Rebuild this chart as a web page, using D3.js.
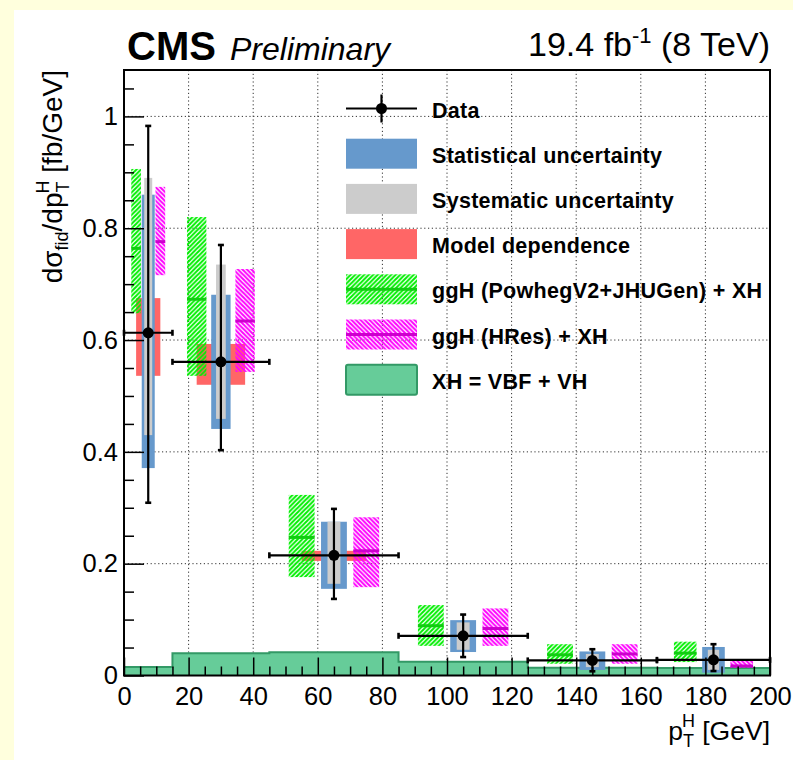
<!DOCTYPE html>
<html>
<head>
<meta charset="utf-8">
<title>pT H fiducial</title>
<script src="https://cdn.jsdelivr.net/npm/d3@7"></script>
<style>
  body { margin: 0; padding: 0; background: #ffffdd; }
  svg { display: block; font-family: "Liberation Sans", Arial, Helvetica, sans-serif; }
</style>
</head>
<body>
<div id="chart"></div>
<script>
// bins in pT [GeV]
const binLo = [0, 15, 45, 85, 125, 165]
const binHi = [15, 45, 85, 125, 165, 200]
const dataX = [7.5, 30, 65, 105, 145, 182.5]
// measured values and errors
const dataY  = [0.613, 0.561, 0.215, 0.071, 0.027, 0.028]
const dataUp = [0.983, 0.770, 0.298, 0.109, 0.047, 0.056]
const dataDn = [0.309, 0.403, 0.137, 0.033, 0.0075, 0.008]
const statUp = [0.860, 0.681, 0.275, 0.099, 0.043, 0.051]
const statDn = [0.371, 0.441, 0.155, 0.042, 0.010, 0.005]
const systUp = [0.890, 0.735, 0.275, 0.095, 0.0385, 0.046]
const systDn = [0.430, 0.459, 0.164, 0.046, 0.015, 0.010]
const modelUp = [0.675, 0.593, 0.223, 0.071, 0.027, 0.028]
const modelDn = [0.536, 0.520, 0.205, 0.071, 0.027, 0.028]
// predictions
const powC  = [0.764, 0.673, 0.247, 0.089, 0.037, 0.040]
const powUp = [0.906, 0.820, 0.323, 0.126, 0.056, 0.0605]
const powDn = [0.648, 0.536, 0.176, 0.053, 0.021, 0.024]
const hresC  = [0.776, 0.634, 0.223, 0.084, 0.0385, 0.017]
const hresUp = [0.874, 0.727, 0.283, 0.120, 0.056, 0.028]
const hresDn = [0.716, 0.543, 0.158, 0.053, 0.021, 0.014]
const xhVal = [0.0152, 0.0397, 0.0415, 0.0247, 0.014, 0.0135]
// axis ticks
const xMajor = [0, 20, 40, 60, 80, 100, 120, 140, 160, 180, 200]
const yMajor = [0, 0.2, 0.4, 0.6, 0.8, 1]
const legendLabels = ["Data", "Statistical uncertainty", "Systematic uncertainty", "Model dependence",
  "ggH (PowhegV2+JHUGen) + XH", "ggH (HRes) + XH", "XH = VBF + VH"]

const W = 793, H = 760
const L = 124, R = 770, T = 70, B = 675.5

const svg = d3.select("#chart").append("svg").attr("width", W).attr("height", H)
svg.append("rect").attr("x", 0).attr("y", 0).attr("width", W).attr("height", H).attr("fill", "#ffffdd")
svg.append("rect").attr("x", 14).attr("y", 10).attr("width", W - 14).attr("height", H - 10).attr("fill", "#fff")

const x = d3.scaleLinear().domain([0, 200]).range([L, R])
const y = d3.scaleLinear().domain([0, 1.083]).range([B, T])

// hatch patterns
const defs = svg.append("defs")
function hatch(id, color, dir) {
  const p = defs.append("pattern").attr("id", id).attr("patternUnits", "userSpaceOnUse")
    .attr("width", 4.5).attr("height", 4.5)
  const d = dir > 0 ? "M-1,1 l2,-2 M0,4.5 l4.5,-4.5 M3.5,5.5 l2,-2" : "M-1,3.5 l2,2 M0,0 l4.5,4.5 M3.5,-1 l2,2"
  p.append("path").attr("d", d).attr("stroke", color).attr("stroke-width", 2)
}
hatch("hG", "#00ee00", 1)
hatch("hM", "#ff00ff", -1)

// grid
const grid = svg.append("g").attr("stroke", "#333").attr("stroke-width", 1).attr("stroke-dasharray", "1.2,2.6")
grid.selectAll("line.gx").data(xMajor.slice(1, -1)).join("line")
  .attr("x1", d => x(d)).attr("x2", d => x(d)).attr("y1", T).attr("y2", B)
grid.selectAll("line.gy").data(yMajor.slice(1)).join("line").attr("class", "gy")
  .attr("x1", L).attr("x2", R).attr("y1", d => y(d)).attr("y2", d => y(d))

const idx = d3.range(binLo.length)
const bw = i => x(binHi[i]) - x(binLo[i])

// XH histogram
const histPts = []
idx.forEach(i => { histPts.push([binLo[i], xhVal[i]]); histPts.push([binHi[i], xhVal[i]]) })
svg.append("path")
  .attr("d", d3.area().x(d => x(d[0])).y0(y(0)).y1(d => y(d[1]))(histPts))
  .attr("fill", "#66cc99")
svg.append("path")
  .attr("d", d3.line().x(d => x(d[0])).y(d => y(d[1]))([[0, 0], ...histPts, [200, 0]]))
  .attr("fill", "none").attr("stroke", "#339966").attr("stroke-width", 2)

// model dependence
svg.selectAll("rect.model").data(idx).join("rect")
  .attr("x", i => x(dataX[i]) - bw(i) * 0.25).attr("width", i => bw(i) * 0.5)
  .attr("y", i => y(modelUp[i])).attr("height", i => y(modelDn[i]) - y(modelUp[i]))
  .attr("fill", "#ff6666")

// predictions
function pred(up, dn, c, off, pat, lc) {
  const g = svg.append("g")
  g.selectAll("rect").data(idx).join("rect")
    .attr("x", i => x(dataX[i]) + off * bw(i) - bw(i) * 0.1).attr("width", i => bw(i) * 0.2)
    .attr("y", i => y(up[i])).attr("height", i => y(dn[i]) - y(up[i]))
    .attr("fill", `url(#${pat})`)
  g.selectAll("line").data(idx).join("line")
    .attr("x1", i => x(dataX[i]) + off * bw(i) - bw(i) * 0.1)
    .attr("x2", i => x(dataX[i]) + off * bw(i) + bw(i) * 0.1)
    .attr("y1", i => y(c[i])).attr("y2", i => y(c[i]))
    .attr("stroke", lc).attr("stroke-width", 3)
}
pred(powUp, powDn, powC, -0.25, "hG", "#11cc11")
pred(hresUp, hresDn, hresC, 0.25, "hM", "#cc00cc")

// stat and syst boxes
const blueW = i => Math.max(bw(i) * 0.2, 13)
const grayW = i => Math.max(bw(i) * 0.1, 8)
svg.selectAll("rect.stat").data(idx).join("rect")
  .attr("x", i => x(dataX[i]) - blueW(i) / 2).attr("width", blueW)
  .attr("y", i => y(statUp[i])).attr("height", i => y(statDn[i]) - y(statUp[i]))
  .attr("fill", "#6699cc")
svg.selectAll("rect.syst").data(idx).join("rect")
  .attr("x", i => x(dataX[i]) - grayW(i) / 2).attr("width", grayW)
  .attr("y", i => y(systUp[i])).attr("height", i => y(systDn[i]) - y(systUp[i]))
  .attr("fill", "#cccccc")

// data points
const dg = svg.append("g").attr("stroke", "#000").attr("stroke-width", 2.2)
dg.selectAll("line.h").data(idx).join("line")
  .attr("x1", i => x(binLo[i])).attr("x2", i => x(binHi[i]))
  .attr("y1", i => y(dataY[i])).attr("y2", i => y(dataY[i]))
dg.selectAll("line.v").data(idx).join("line")
  .attr("x1", i => x(dataX[i])).attr("x2", i => x(dataX[i]))
  .attr("y1", i => y(dataUp[i])).attr("y2", i => y(dataDn[i]))
const caps = []
idx.forEach(i => {
  caps.push({ x1: x(dataX[i]) - 3, x2: x(dataX[i]) + 3, y1: y(dataUp[i]), y2: y(dataUp[i]) })
  caps.push({ x1: x(dataX[i]) - 3, x2: x(dataX[i]) + 3, y1: y(dataDn[i]), y2: y(dataDn[i]) })
  caps.push({ x1: x(binLo[i]), x2: x(binLo[i]), y1: y(dataY[i]) - 3, y2: y(dataY[i]) + 3 })
  caps.push({ x1: x(binHi[i]), x2: x(binHi[i]), y1: y(dataY[i]) - 3, y2: y(dataY[i]) + 3 })
})
dg.selectAll("line.c").data(caps).join("line")
  .attr("x1", d => d.x1).attr("x2", d => d.x2).attr("y1", d => d.y1).attr("y2", d => d.y2)
  .attr("stroke-width", 2.6)
svg.selectAll("circle.pt").data(idx).join("circle")
  .attr("cx", i => x(dataX[i])).attr("cy", i => y(dataY[i])).attr("r", 5.5).attr("fill", "#000")

// axes
const fnt = (g, size) => g.attr("font-family", null).attr("font-size", null)
  .call(g => g.selectAll("text").attr("font-size", size).attr("fill", "#000"))
const xMinor = d3.range(0, 201, 5).filter(d => d % 20 !== 0)
const yMinor = d3.range(0, 1.08, 0.05).map(d => +d.toFixed(2)).filter(d => Math.round(d * 100) % 20 !== 0)

svg.append("g").attr("transform", `translate(0,${B})`)
  .call(d3.axisBottom(x).tickValues(xMajor).tickSizeInner(-18).tickSizeOuter(0).tickPadding(11))
  .call(g => fnt(g, 25.5))
  .call(g => g.select(".domain").remove())
  .call(g => g.selectAll("line").attr("stroke-width", 1.5))
svg.append("g").attr("transform", `translate(0,${B})`)
  .call(d3.axisBottom(x).tickValues(xMinor).tickSizeInner(-9).tickSizeOuter(0).tickFormat(""))
  .call(g => g.select(".domain").remove())
  .call(g => g.selectAll("line").attr("stroke-width", 1.5))
svg.append("g").attr("transform", `translate(${L},0)`)
  .call(d3.axisLeft(y).tickValues(yMajor).tickSizeInner(-20).tickSizeOuter(0).tickPadding(6)
    .tickFormat(d => d3.format("~g")(d)))
  .call(g => fnt(g, 25.5))
  .call(g => g.select(".domain").remove())
  .call(g => g.selectAll("line").attr("stroke-width", 1.5))
svg.append("g").attr("transform", `translate(${L},0)`)
  .call(d3.axisLeft(y).tickValues(yMinor).tickSizeInner(-10).tickSizeOuter(0).tickFormat(""))
  .call(g => g.select(".domain").remove())
  .call(g => g.selectAll("line").attr("stroke-width", 1.5))

// frame
svg.append("rect").attr("x", L).attr("y", T).attr("width", R - L).attr("height", B - T)
  .attr("fill", "none").attr("stroke", "#000").attr("stroke-width", 2)

// titles
svg.append("text").attr("x", 127).attr("y", 60).attr("font-size", 40).attr("font-weight", "bold").text("CMS")
svg.append("text").attr("x", 230).attr("y", 60).attr("font-size", 32).attr("font-style", "italic").text("Preliminary")
const lumi = svg.append("text").attr("x", R).attr("y", 56).attr("font-size", 34).attr("text-anchor", "end")
lumi.append("tspan").text("19.4 fb")
lumi.append("tspan").attr("font-size", 22).attr("dy", -13).text("-1")
lumi.append("tspan").attr("dy", 13).text(" (8 TeV)")

const xt = svg.append("text").attr("x", R).attr("y", 740).attr("font-size", 26.5).attr("text-anchor", "end")
xt.append("tspan").text("p")
xt.append("tspan").attr("font-size", 18).attr("dy", 7).text("T")
xt.append("tspan").attr("font-size", 18).attr("dx", -12).attr("dy", -20).text("H")
xt.append("tspan").attr("dy", 13).text(" [GeV]")

const yt = svg.append("text").attr("transform", `translate(62,${T}) rotate(-90)`)
  .attr("font-size", 28).attr("text-anchor", "end")
yt.append("tspan").text("dσ")
yt.append("tspan").attr("font-size", 18).attr("dy", 6).text("fid")
yt.append("tspan").attr("dy", -6).text("/dp")
yt.append("tspan").attr("font-size", 18).attr("dy", 7).text("T")
yt.append("tspan").attr("font-size", 18).attr("dx", -12).attr("dy", -20).text("H")
yt.append("tspan").attr("dy", 13).text(" [fb/GeV]")

// legend
const lg = svg.append("g")
const rowY = i => 108.5 + i * 45.2
const bx = 346, bwid = 71, bh = 30
lg.append("line").attr("x1", bx).attr("x2", bx + bwid).attr("y1", rowY(0)).attr("y2", rowY(0)).attr("stroke", "#000").attr("stroke-width", 2.2)
lg.append("line").attr("x1", bx + bwid / 2).attr("x2", bx + bwid / 2).attr("y1", rowY(0) - 14).attr("y2", rowY(0) + 14).attr("stroke", "#000").attr("stroke-width", 2.2)
lg.append("circle").attr("cx", bx + bwid / 2).attr("cy", rowY(0)).attr("r", 5.5)
const fills = [null, "#6699cc", "#cccccc", "#ff6666", "url(#hG)", "url(#hM)", "#66cc99"]
d3.range(1, 7).forEach(i => {
  const r = lg.append("rect").attr("x", bx).attr("y", rowY(i) - bh / 2).attr("width", bwid).attr("height", bh).attr("fill", fills[i])
  if (i === 6) r.attr("stroke", "#339966").attr("stroke-width", 2).attr("rx", 2)
})
lg.append("line").attr("x1", bx).attr("x2", bx + bwid).attr("y1", rowY(4)).attr("y2", rowY(4)).attr("stroke", "#11cc11").attr("stroke-width", 3)
lg.append("line").attr("x1", bx).attr("x2", bx + bwid).attr("y1", rowY(5)).attr("y2", rowY(5)).attr("stroke", "#cc00cc").attr("stroke-width", 3)
lg.selectAll("text").data(legendLabels).join("text")
  .attr("x", 432).attr("y", (d, i) => rowY(i) + 9)
  .attr("font-size", 21.5).attr("letter-spacing", 0.3).attr("font-weight", "bold").text(d => d)
</script>
</body>
</html>
